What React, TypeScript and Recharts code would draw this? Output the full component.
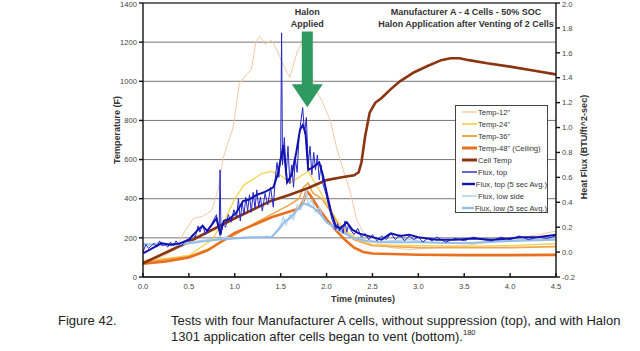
import React from 'react';
import { LineChart, Line, XAxis, YAxis, CartesianGrid, ReferenceLine, Legend, Label } from 'recharts';

type Pt = [number, number];

const timeTicks = [0, 0.5, 1, 1.5, 2, 2.5, 3, 3.5, 4, 4.5];
const tempTicks = [0, 200, 400, 600, 800, 1000, 1200, 1400];
const fluxTicks = [-0.2, 0, 0.2, 0.4, 0.6, 0.8, 1.0, 1.2, 1.4, 1.6, 1.8, 2.0];

const temp12: Pt[] = [
  [0, 85], [0.2, 100], [0.35, 140], [0.45, 230], [0.55, 300], [0.65, 310], [0.75, 340], [0.82, 450],
  [0.87, 600], [0.92, 680], [0.98, 760], [1.05, 990], [1.12, 1030], [1.18, 1060], [1.23, 1200],
  [1.27, 1230], [1.33, 1190], [1.4, 1210], [1.46, 1160], [1.53, 1080], [1.6, 1020], [1.68, 1150],
  [1.74, 1200], [1.8, 1170], [1.85, 1010], [1.89, 950], [1.95, 900], [2.04, 800], [2.11, 660],
  [2.18, 550], [2.26, 430], [2.33, 290], [2.42, 210], [2.5, 180], [2.7, 150], [2.9, 140],
  [3.2, 150], [3.5, 160], [3.8, 180], [4.1, 200], [4.3, 215], [4.5, 235],
];

const temp24: Pt[] = [
  [0, 80], [0.5, 110], [0.75, 190], [0.9, 300], [1.0, 400], [1.1, 470], [1.2, 500], [1.3, 530],
  [1.4, 540], [1.5, 520], [1.6, 480], [1.7, 510], [1.8, 540], [1.9, 460], [2.0, 380], [2.1, 300],
  [2.2, 240], [2.35, 190], [2.5, 165], [3.0, 160], [3.5, 158], [4.0, 160], [4.5, 170],
];

const temp36: Pt[] = [
  [0, 75], [0.5, 105], [0.75, 150], [1.0, 215], [1.2, 270], [1.4, 320], [1.6, 370], [1.7, 400],
  [1.75, 460], [1.8, 480], [1.85, 430], [1.95, 400], [2.05, 330], [2.15, 250], [2.3, 190],
  [2.5, 160], [3.0, 150], [3.5, 150], [4.0, 150], [4.5, 155],
];

const temp48: Pt[] = [
  [0, 68], [0.25, 80], [0.5, 100], [0.7, 135], [0.85, 180], [1.0, 225], [1.2, 265], [1.4, 305],
  [1.6, 335], [1.7, 350], [1.75, 390], [1.78, 440], [1.82, 420], [1.9, 360], [2.0, 295],
  [2.1, 240], [2.2, 190], [2.3, 150], [2.4, 128], [2.5, 120], [3.0, 114], [3.5, 112],
  [4.0, 112], [4.5, 113],
];

const cellTemp: Pt[] = [
  [0, 70], [0.25, 125], [0.5, 180], [0.75, 240], [1.0, 300], [1.2, 345], [1.4, 390], [1.6, 420],
  [1.8, 455], [2.0, 495], [2.15, 508], [2.3, 520], [2.35, 535], [2.38, 585], [2.42, 718],
  [2.47, 840], [2.53, 890], [2.6, 915], [2.7, 960], [2.8, 1000], [2.95, 1045], [3.1, 1078],
  [3.25, 1108], [3.35, 1118], [3.45, 1118], [3.55, 1108], [3.75, 1092], [4.0, 1075],
  [4.25, 1055], [4.5, 1035],
];

const fluxTop: Pt[] = [
  [0.0, 0.0], [0.03, 0.06], [0.06, 0.03], [0.09, 0.05], [0.12, 0.07], [0.15, 0.04], [0.18, 0.09],
  [0.21, 0.05], [0.24, 0.06], [0.27, 0.04], [0.3, 0.08], [0.33, 0.05], [0.36, 0.09], [0.39, 0.06],
  [0.42, 0.05], [0.45, 0.08], [0.48, 0.1], [0.51, 0.09], [0.54, 0.14], [0.57, 0.12], [0.6, 0.21],
  [0.62, 0.16], [0.65, 0.22], [0.68, 0.14], [0.71, 0.18], [0.74, 0.2], [0.77, 0.26], [0.8, 0.3],
  [0.83, 0.18], [0.84, 0.66], [0.85, 0.14], [0.87, 0.22], [0.9, 0.2], [0.93, 0.3], [0.96, 0.24],
  [0.99, 0.34], [1.02, 0.28], [1.04, 0.43], [1.06, 0.25], [1.08, 0.4], [1.1, 0.3], [1.12, 0.44],
  [1.14, 0.33], [1.16, 0.46], [1.18, 0.32], [1.2, 0.48], [1.22, 0.35], [1.24, 0.5], [1.26, 0.36],
  [1.28, 0.44], [1.3, 0.33], [1.33, 0.47], [1.36, 0.38], [1.39, 0.52], [1.42, 0.36], [1.44, 0.58],
  [1.46, 0.72], [1.48, 0.6], [1.5, 0.78], [1.51, 1.76], [1.52, 0.7], [1.54, 0.92], [1.56, 0.62],
  [1.58, 0.85], [1.6, 0.55], [1.62, 0.7], [1.64, 0.52], [1.66, 0.75], [1.68, 0.64], [1.7, 0.92],
  [1.72, 1.05], [1.74, 1.16], [1.76, 0.95], [1.78, 1.08], [1.8, 0.7], [1.82, 0.85], [1.84, 0.62],
  [1.86, 0.8], [1.88, 0.66], [1.9, 0.78], [1.92, 0.58], [1.94, 0.7], [1.96, 0.55], [1.98, 0.5],
  [2.0, 0.45], [2.02, 0.38], [2.04, 0.32], [2.06, 0.26], [2.08, 0.22], [2.1, 0.18], [2.12, 0.23],
  [2.14, 0.17], [2.16, 0.21], [2.18, 0.15], [2.2, 0.25], [2.22, 0.16], [2.24, 0.22], [2.26, 0.18],
  [2.3, 0.14], [2.34, 0.19], [2.38, 0.12], [2.42, 0.15], [2.46, 0.1], [2.5, 0.14], [2.55, 0.09],
  [2.6, 0.13], [2.65, 0.1], [2.7, 0.15], [2.75, 0.1], [2.8, 0.14], [2.85, 0.09], [2.9, 0.13],
  [2.95, 0.1], [3.0, 0.12], [3.05, 0.08], [3.1, 0.11], [3.15, 0.09], [3.2, 0.12], [3.3, 0.08],
  [3.4, 0.11], [3.5, 0.09], [3.6, 0.12], [3.7, 0.1], [3.8, 0.09], [3.9, 0.12], [4.0, 0.1],
  [4.1, 0.13], [4.2, 0.1], [4.3, 0.12], [4.4, 0.11], [4.5, 0.13],
];

const fluxTopAvg: Pt[] = [
  [0, -0.01], [0.1, 0.03], [0.2, 0.07], [0.3, 0.06], [0.4, 0.07], [0.5, 0.1], [0.6, 0.18],
  [0.65, 0.21], [0.7, 0.17], [0.75, 0.22], [0.8, 0.27], [0.84, 0.15], [0.88, 0.25], [0.95, 0.27],
  [1.02, 0.32], [1.09, 0.41], [1.15, 0.42], [1.24, 0.46], [1.32, 0.48], [1.42, 0.52], [1.47, 0.63],
  [1.53, 0.86], [1.57, 0.56], [1.62, 0.62], [1.67, 0.8], [1.71, 0.98], [1.74, 1.02], [1.77, 0.96],
  [1.8, 0.66], [1.85, 0.68], [1.92, 0.72], [1.96, 0.62], [2.0, 0.48], [2.05, 0.32], [2.1, 0.21],
  [2.15, 0.19], [2.22, 0.24], [2.28, 0.18], [2.35, 0.15], [2.5, 0.12], [2.6, 0.1], [2.7, 0.15],
  [2.8, 0.13], [2.9, 0.14], [3.0, 0.12], [3.2, 0.1], [3.4, 0.1], [3.6, 0.11], [3.8, 0.1],
  [4.0, 0.11], [4.1, 0.12], [4.3, 0.12], [4.5, 0.14],
];

const fluxLow: Pt[] = [
  [0, 0.07], [0.1, 0.06], [0.2, 0.08], [0.3, 0.05], [0.4, 0.06], [0.5, 0.08], [0.6, 0.09],
  [0.7, 0.1], [0.8, 0.1], [0.9, 0.12], [1.0, 0.11], [1.1, 0.12], [1.2, 0.12], [1.3, 0.11],
  [1.35, 0.13], [1.4, 0.12], [1.45, 0.16], [1.5, 0.22], [1.53, 0.28], [1.56, 0.22], [1.6, 0.3],
  [1.64, 0.26], [1.68, 0.38], [1.72, 0.34], [1.76, 0.44], [1.78, 0.5], [1.8, 0.38], [1.84, 0.42],
  [1.88, 0.32], [1.92, 0.36], [1.96, 0.28], [2.0, 0.24], [2.05, 0.22], [2.1, 0.18], [2.2, 0.15],
  [2.3, 0.11], [2.4, 0.09], [2.5, 0.08], [2.7, 0.09], [2.9, 0.1], [3.1, 0.08], [3.3, 0.07],
  [3.5, 0.07], [3.7, 0.08], [3.9, 0.09], [4.1, 0.1], [4.3, 0.1], [4.5, 0.11],
];

const fluxLowAvg: Pt[] = [
  [0, 0.06], [0.2, 0.06], [0.4, 0.06], [0.6, 0.08], [0.8, 0.1], [1.0, 0.11], [1.2, 0.12],
  [1.4, 0.12], [1.5, 0.2], [1.55, 0.25], [1.6, 0.27], [1.68, 0.34], [1.75, 0.39], [1.8, 0.38],
  [1.85, 0.36], [1.9, 0.33], [1.95, 0.29], [2.0, 0.24], [2.1, 0.19], [2.2, 0.15], [2.3, 0.11],
  [2.45, 0.09], [2.6, 0.08], [3.0, 0.08], [3.5, 0.07], [4.0, 0.09], [4.5, 0.1],
];

const halonTime = 1.79;

const toRows = (pts: Pt[]) => pts.map(([t, v]) => ({ t, v }));

const FONT = '"Liberation Sans", Arial, sans-serif';

const series = [
  { name: 'Temp-12"', data: temp12, color: '#F6C9A2', width: 1, axis: 'left' },
  { name: 'Temp-24"', data: temp24, color: '#F4D24C', width: 1.3, axis: 'left' },
  { name: 'Temp-36"', data: temp36, color: '#EFA64E', width: 1.6, axis: 'left' },
  { name: 'Temp-48" (Ceiling)', data: temp48, color: '#E8701E', width: 2.6, axis: 'left' },
  { name: 'Cell Temp', data: cellTemp, color: '#8A3410', width: 2.6, axis: 'left' },
  { name: 'Flux, top', data: fluxTop, color: '#2626C8', width: 1, axis: 'right' },
  { name: 'Flux, top (5 sec Avg.)', data: fluxTopAvg, color: '#1212AE', width: 2, axis: 'right' },
  { name: 'Flux, low side', data: fluxLow, color: '#B2D2F0', width: 1.2, axis: 'right' },
  { name: 'Flux, low (5 sec Avg.)', data: fluxLowAvg, color: '#93BDE9', width: 2, axis: 'right' },
];

const drawOrder = [0, 1, 2, 3, 4, 7, 8, 5, 6];

const LegendBox = () => (
  <div
    style={{
      border: '1px solid #444',
      background: '#fff',
      width: 93,
      height: 108,
      boxSizing: 'border-box',
      paddingTop: 0,
      fontFamily: FONT,
      fontSize: 7.6,
      color: '#333',
    }}
  >
    {series.map((s) => (
      <div key={s.name} style={{ display: 'flex', alignItems: 'center', height: 12 }}>
        <svg width={15} height={6} style={{ marginLeft: 6, marginRight: 1 }}>
          <line x1={0} y1={3} x2={15} y2={3} stroke={s.color} strokeWidth={s.width + 0.4} />
        </svg>
        <span style={{ whiteSpace: 'nowrap' }}>{s.name}</span>
      </div>
    ))}
  </div>
);

const Arrow = (props: any) => {
  const { x1, y1, y2 } = props;
  const cx = x1;
  const top = Math.min(y1, y2);
  const tip = Math.max(y1, y2);
  const headH = 23;
  const sw = 5.5;
  const hw = 15.5;
  const pts = [
    [cx - sw, top], [cx + sw, top], [cx + sw, tip - headH], [cx + hw, tip - headH],
    [cx, tip], [cx - hw, tip - headH], [cx - sw, tip - headH],
  ].map((p) => p.join(',')).join(' ');
  return (
    <g>
      <polygon points={pts} fill="#2E9A62" />
      <text x={cx} y={top - 16} textAnchor="middle" fontFamily={FONT} fontSize={9} fontWeight="bold" fill="#333">Halon</text>
      <text x={cx} y={top - 4} textAnchor="middle" fontFamily={FONT} fontSize={9} fontWeight="bold" fill="#333">Applied</text>
    </g>
  );
};

const tickStyle = { fontFamily: FONT, fontSize: 7.6, fill: '#444' };

export default function App() {
  return (
    <div style={{ position: 'absolute', left: 0, top: 0, width: 640, height: 351, background: '#fff', fontFamily: FONT }}>
      <LineChart width={640} height={310} margin={{ top: 3, right: 0, bottom: 0, left: 0 }}>
        <CartesianGrid yAxisId="left" vertical={false} stroke="#777" strokeWidth={1} />
        <XAxis
          dataKey="t"
          type="number"
          domain={[0, 4.5]}
          ticks={timeTicks}
          tickFormatter={(v: number) => v.toFixed(1)}
          height={33}
          tickSize={-4}
          tickMargin={11}
          tick={tickStyle}
          stroke="#111"
          strokeWidth={1.4}
          allowDataOverflow
        >
          <Label
            content={(p: any) => (
              <text x={p.viewBox.x + 220} y={p.viewBox.y + 25} textAnchor="middle" fontFamily={FONT} fontSize={9} fontWeight="bold" fill="#333">
                Time (minutes)
              </text>
            )}
          />
        </XAxis>
        <YAxis
          yAxisId="left"
          domain={[0, 1400]}
          ticks={tempTicks}
          width={143}
          tickSize={4}
          tickMargin={2}
          tick={tickStyle}
          stroke="#111"
          strokeWidth={1.4}
          allowDataOverflow
        >
          <Label
            content={(p: any) => (
              <text
                x={p.viewBox.x + 120}
                y={p.viewBox.y + 127}
                transform={`rotate(-90 ${p.viewBox.x + 120} ${p.viewBox.y + 127})`}
                textAnchor="middle"
                fontFamily={FONT}
                fontSize={9}
                fontWeight="bold"
                fill="#333"
              >
                Temperature (F)
              </text>
            )}
          />
        </YAxis>
        <YAxis
          yAxisId="right"
          orientation="right"
          domain={[-0.2, 2.0]}
          ticks={fluxTicks}
          tickFormatter={(v: number) => v.toFixed(1)}
          width={84}
          tickSize={4}
          tickMargin={2}
          tick={tickStyle}
          stroke="#111"
          strokeWidth={1.4}
          allowDataOverflow
        >
          <Label
            content={(p: any) => (
              <text
                x={p.viewBox.x + 31}
                y={p.viewBox.y + 144}
                transform={`rotate(-90 ${p.viewBox.x + 31} ${p.viewBox.y + 144})`}
                textAnchor="middle"
                fontFamily={FONT}
                fontSize={9}
                fontWeight="bold"
                fill="#333"
              >
                Heat Flux (BTU/ft^2-sec)
              </text>
            )}
          />
        </YAxis>
        <ReferenceLine yAxisId="left" y={1400} stroke="#222" strokeWidth={1.2} />
        {drawOrder.map((i) => {
          const s = series[i];
          return (
            <Line
              key={s.name}
              yAxisId={s.axis}
              data={toRows(s.data)}
              dataKey="v"
              name={s.name}
              type="linear"
              stroke={s.color}
              strokeWidth={s.width}
              dot={false}
              activeDot={false}
              isAnimationActive={false}
            />
          );
        })}
        <ReferenceLine
          yAxisId="left"
          segment={[{ x: halonTime, y: 1255 }, { x: halonTime, y: 867 }]}
          shape={Arrow}
        />
        <Legend
          layout="vertical"
          align="center"
          verticalAlign="middle"
          content={() => <LegendBox />}
          wrapperStyle={{ position: 'absolute', left: 455, top: 105, width: 95, height: 110 }}
        />
      </LineChart>
      <div style={{ position: 'absolute', left: 365, top: 6, width: 202, textAlign: 'center', fontFamily: FONT, fontSize: 9, fontWeight: 'bold', color: '#333', lineHeight: '12px' }}>
        <div>Manufacturer A - 4 Cells - 50% SOC</div>
        <div>Halon Application after Venting of 2 Cells</div>
      </div>
      <div style={{ position: 'absolute', left: 58, top: 313, fontFamily: FONT, fontSize: 13, color: '#222', lineHeight: '16px' }}>
        Figure 42.
      </div>
      <div style={{ position: 'absolute', left: 171, top: 313, fontFamily: FONT, fontSize: 13, color: '#222', lineHeight: '16px', whiteSpace: 'nowrap' }}>
        <div>Tests with four Manufacturer A cells, without suppression (top), and with Halon</div>
        <div>
          1301 application after cells began to vent (bottom).<sup style={{ fontSize: 7.5, verticalAlign: 'top', lineHeight: '8px' }}>180</sup>
        </div>
      </div>
    </div>
  );
}
